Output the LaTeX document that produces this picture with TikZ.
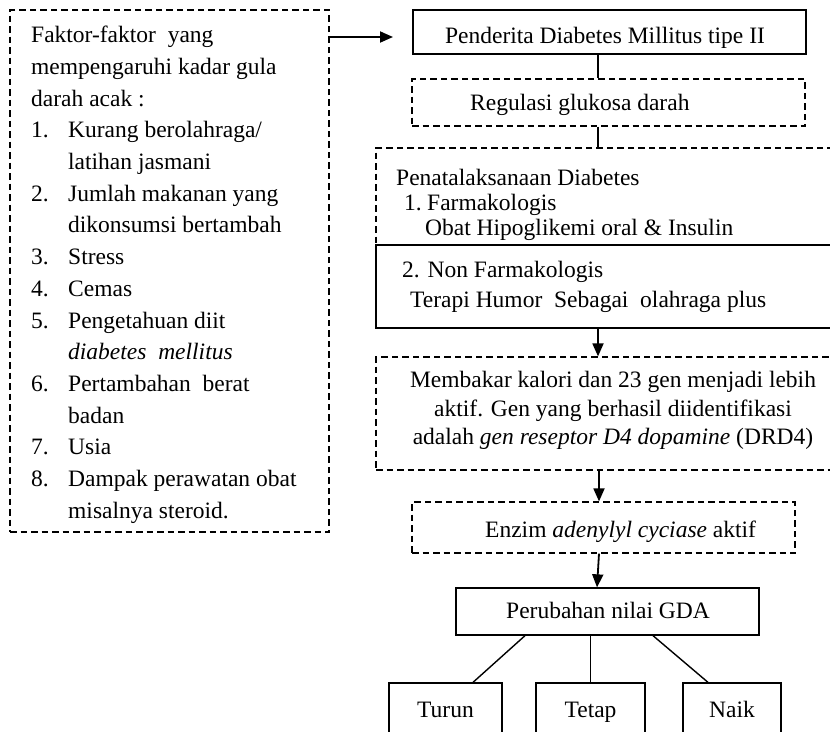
\documentclass[tikz,border=0pt]{standalone}
\usepackage{fontspec}
\setmainfont{Liberation Serif}
\usetikzlibrary{arrows.meta}
\begin{document}
\begin{tikzpicture}[x=1pt,y=-1pt,
  solidbox/.style={draw=black,line width=1.3pt,inner sep=0pt},
  dashbox/.style={draw=black,line width=1.2pt,dash pattern=on 6.5pt off 4pt,inner sep=0pt},
  txt/.style={inner sep=0pt,font=\fontsize{23.5}{31.7}\selectfont},
  conn/.style={draw=black,line width=1.4pt},
  arr/.style={draw=black,line width=1.8pt,-{Triangle[length=13pt,width=11pt]}}]
\clip (0,0) rectangle (830,731);
\fill[white] (0,0) rectangle (830,731);
% boxes
\node[dashbox,minimum width=319pt,minimum height=522pt] (left) at (169.5,271) {};
\node[solidbox,minimum width=393pt,minimum height=44pt] (pend) at (609.5,32) {};
\node[dashbox,minimum width=393pt,minimum height=47pt] (reg) at (608.5,102.5) {};
\node[dashbox,minimum width=469pt,minimum height=97pt] (pena) at (610.5,196.5) {};
\node[solidbox,minimum width=469pt,minimum height=83pt] (nonf) at (610.5,286.5) {};
\node[dashbox,minimum width=469pt,minimum height=113pt] (memb) at (610.5,413.5) {};
\node[dashbox,minimum width=383pt,minimum height=51pt] (enz) at (603.5,527.5) {};
\node[solidbox,minimum width=303pt,minimum height=47pt] (peru) at (607.5,611.5) {};
\node[solidbox,minimum width=113pt,minimum height=77pt] (turun) at (445.5,721.5) {};
\node[solidbox,minimum width=109pt,minimum height=77pt] (tetap) at (590.5,721.5) {};
\node[solidbox,minimum width=98pt,minimum height=77pt] (naik) at (732,721.5) {};
% texts
\node[txt,anchor=north west,align=left] (tleft) at (31,26) {Faktor-faktor~ yang\\
mempengaruhi kadar gula\\
darah acak :\\
\makebox[37pt][l]{1.}Kurang berolahraga/\\
\hspace*{37pt}latihan jasmani\\
\makebox[37pt][l]{2.}Jumlah makanan yang\\
\hspace*{37pt}dikonsumsi bertambah\\
\makebox[37pt][l]{3.}Stress\\
\makebox[37pt][l]{4.}Cemas\\
\makebox[37pt][l]{5.}Pengetahuan diit\\
\hspace*{37pt}\textit{diabetes~ mellitus}\\
\makebox[37pt][l]{6.}Pertambahan~ berat\\
\hspace*{37pt}badan\\
\makebox[37pt][l]{7.}Usia\\
\makebox[37pt][l]{8.}Dampak perawatan obat\\
\hspace*{37pt}misalnya steroid.};
\node[txt,anchor=base] (tpend) at (605,43) {Penderita Diabetes Millitus tipe II};
\node[txt,anchor=base west] (treg) at (470,110) {Regulasi glukosa darah};
\node[txt,anchor=north west,align=left,font=\fontsize{23.5}{25}\selectfont] (tpena) at (396,168.5) {Penatalaksanaan Diabetes\\
\hspace*{8pt}\makebox[23pt][l]{1.}Farmakologis\\
\hspace*{29pt}Obat Hipoglikemi oral \& Insulin};
\node[txt,anchor=north west,align=left,font=\fontsize{23.5}{30}\selectfont] (tnonf) at (402,261) {2. Non Farmakologis\\
\hspace*{8pt}Terapi Humor~ Sebagai~ olahraga plus};
\node[txt,anchor=north,align=center,font=\fontsize{23.5}{28.5}\selectfont] (tmemb) at (613,371) {Membakar kalori dan 23 gen menjadi lebih\\
aktif. Gen yang berhasil diidentifikasi\\
adalah \textit{gen reseptor D4 dopamine} (DRD4)};
\node[txt,anchor=base west] (tenz) at (485,537) {Enzim \textit{adenylyl cyciase} aktif};
\node[txt,anchor=base] (tperu) at (608,618) {Perubahan nilai GDA};
\node[txt,anchor=base] (tturun) at (445.5,717) {Turun};
\node[txt,anchor=base] (ttetap) at (590.5,717) {Tetap};
\node[txt,anchor=base] (tnaik) at (732,717) {Naik};
% connector helpers
\coordinate (tip1) at (393,37);
\coordinate (cx) at (598,0);
\coordinate (cx2) at (599,0);
\coordinate (cx3) at (597,0);
% connectors
\draw[arr] (left.east |- tip1) -- (tip1);
\draw[conn] (pend.south -| cx) -- (reg.north -| cx);
\draw[conn] (reg.south -| cx) -- (pena.north -| cx);
\draw[arr] (nonf.south -| cx) -- (memb.north -| cx);
\draw[arr] (memb.south -| cx2) -- (enz.north -| cx2);
\draw[arr] (enz.south -| cx2) -- (peru.north -| cx3);
\draw[conn] ([xshift=-82.5pt]peru.south) -- ([xshift=27.5pt]turun.north);
\draw[conn] (peru.south -| tetap.north) -- (tetap.north);
\draw[conn] ([xshift=45.5pt]peru.south) -- ([xshift=-24pt]naik.north);
\end{tikzpicture}
\end{document}
